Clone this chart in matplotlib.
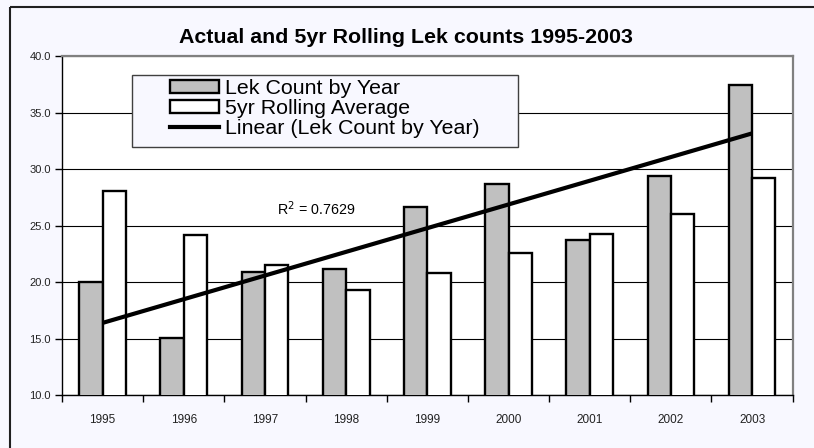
import matplotlib.pyplot as plt
from matplotlib.patches import Rectangle, Patch
from matplotlib.lines import Line2D
import numpy as np

plt.rcParams['font.family'] = ['Liberation Sans', 'DejaVu Sans']

# data
years = ['1995', '1996', '1997', '1998', '1999', '2000', '2001', '2002', '2003']
lek_count = [20.0, 15.1, 20.9, 21.2, 26.7, 28.7, 23.7, 29.4, 37.4]
rolling_avg = [28.1, 24.2, 21.5, 19.3, 20.8, 22.6, 24.3, 26.0, 29.2]
r2_label = 'R$^2$ = 0.7629'

bg = '#F8F8FF'
fig = plt.figure(figsize=(8.14, 4.48), dpi=100, facecolor=bg)
ax = fig.add_axes([0.0762, 0.1172, 0.8976, 0.7578])
ax.set_facecolor('white')

x = np.arange(len(years))
w = 0.288
ax.bar(x - w / 2, lek_count, w, color='#C0C0C0', edgecolor='black',
       linewidth=1.7, zorder=3)
ax.bar(x + w / 2, rolling_avg, w, color='white', edgecolor='black',
       linewidth=1.7, zorder=3)

# linear trend of the lek counts
slope, icpt = np.polyfit(x, lek_count, 1)
ax.plot([x[0], x[-1]], [icpt + slope * x[0], icpt + slope * x[-1]],
        color='black', linewidth=3.0, solid_capstyle='butt', zorder=4)
ax.text(2.63, 26.5, r2_label, fontsize=10.3, ha='center', va='center', zorder=5)

ax.set_ylim(10, 40)
ax.set_xlim(-0.5, len(years) - 0.5)
ax.set_yticks(np.arange(10, 40.1, 5))
ax.set_yticklabels(['%.1f' % v for v in np.arange(10, 40.1, 5)])
ax.yaxis.grid(True, color='black', linewidth=0.8, zorder=0)
ax.set_axisbelow(True)

ax.set_xticks(x)
ax.set_xticklabels(years)
ax.set_xticks(np.arange(-0.5, len(years)), minor=True)
ax.tick_params(axis='x', which='major', length=0, pad=13, labelsize=8.5,
               labelcolor='#222222')
ax.tick_params(axis='x', which='minor', length=5, width=1, direction='out')
ax.tick_params(axis='y', length=5, width=1, direction='out', pad=3,
               labelsize=8, labelcolor='#222222')

for s in ['top', 'right']:
    ax.spines[s].set_color('#808080')
    ax.spines[s].set_linewidth(1.6)
for s in ['left', 'bottom']:
    ax.spines[s].set_color('black')
    ax.spines[s].set_linewidth(1.0)

# legend
handles = [Patch(facecolor='#C0C0C0', edgecolor='black', linewidth=1.7),
           Patch(facecolor='white', edgecolor='black', linewidth=1.7),
           Line2D([0], [0], color='black', linewidth=3.0)]
labels = ['Lek Count by Year', '5yr Rolling Average', 'Linear (Lek Count by Year)']
leg = fig.legend(handles, labels, loc='upper left',
                 bbox_to_anchor=(170 / 814, 1 - 79 / 448),
                 frameon=False, fontsize=15.4, labelspacing=0.05,
                 handlelength=2.3, handleheight=0.62, handletextpad=0.25,
                 borderpad=0, borderaxespad=0)
fig.patches.append(Rectangle((131.7 / 814, 1 - 147.3 / 448), 386.6 / 814, 72.3 / 448,
                             transform=fig.transFigure, facecolor=bg,
                             edgecolor='#404040', linewidth=1.0, zorder=0))

# outer chart frame: only top and left edges are inside the picture
top = 1 - 6.7 / 448
left = 10 / 814
fig.add_artist(Line2D([left, 1.2], [top, top], transform=fig.transFigure,
                      color='#202020', linewidth=1.5, solid_capstyle='butt'))
fig.add_artist(Line2D([left, left], [-0.2, top], transform=fig.transFigure,
                      color='#202020', linewidth=1.5, solid_capstyle='butt'))

fig.text(0.499, 1 - 43.3 / 448, 'Actual and 5yr Rolling Lek counts 1995-2003',
         ha='center', va='baseline', fontsize=15.4, fontweight='bold')

fig.savefig('out.png', dpi=100, facecolor=bg)
